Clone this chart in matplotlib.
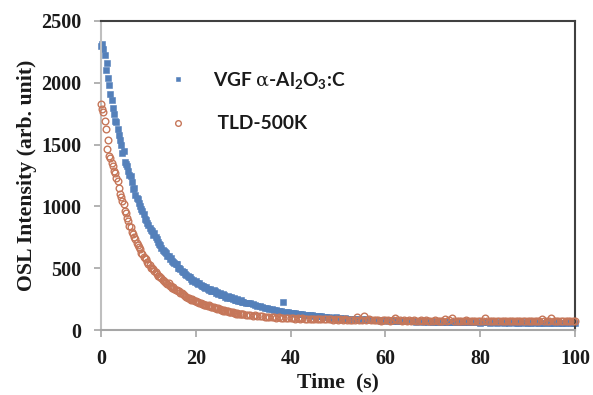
import numpy as np
import matplotlib
matplotlib.use("Agg")
import matplotlib.pyplot as plt
from matplotlib.font_manager import FontProperties

# time channels: 0.25 s steps for the first 30 s, 0.5 s steps afterwards
time_early = np.arange(0, 30, 0.25)
time_late = np.arange(30, 100.01, 0.5)

vgf_early = [
    2300, 2315, 2270, 2225, 2100, 2160, 2040, 1985,
    1910, 1860, 1800, 1750, 1690, 1680, 1625, 1580,
    1540, 1500, 1435, 1450, 1360, 1345, 1328, 1290,
    1255, 1245, 1200, 1140, 1150, 1095, 1068, 1060,
    1030, 1003, 980, 960, 938, 900, 890, 866,
    850, 825, 810, 800, 770, 785, 750, 735,
    715, 696, 690, 660, 650, 640, 630, 623,
    600, 595, 575, 580, 555, 548, 540, 530,
    534, 505, 498, 490, 480, 468, 470, 450,
    445, 437, 425, 430, 415, 400, 405, 392,
    395, 380, 370, 382, 365, 352, 358, 345,
    340, 348, 330, 325, 335, 318, 312, 320,
    315, 300, 308, 290, 298, 285, 280, 292,
    280, 270, 262, 275, 265, 255, 268, 250,
    255, 246, 240, 250, 238, 232, 242, 230,
]
vgf_late = [
    228, 220, 215, 222, 208, 205, 196, 198, 185, 180,
    176, 172, 168, 165, 160, 155, 150, 230, 148, 142,
    140, 135, 138, 130, 133, 126, 122, 125, 118, 120,
    115, 112, 110, 114, 106, 104, 108, 100, 98, 102,
    96, 95, 92, 96, 90, 88, 91, 86, 88, 84,
    86, 82, 85, 80, 83, 78, 80, 82, 76, 79,
    77, 75, 78, 74, 72, 76, 73, 70, 74, 71,
    73, 70, 72, 68, 71, 69, 66, 70, 67, 69,
    65, 68, 66, 70, 64, 67, 65, 68, 63, 66,
    64, 67, 62, 65, 63, 66, 61, 64, 62, 65,
    60, 63, 61, 64, 60, 62, 65, 59, 63, 61,
    60, 62, 58, 61, 63, 59, 60, 62, 57, 61,
    59, 60, 62, 58, 61, 57, 60, 59, 62, 56,
    60, 58, 61, 57, 60, 55, 59, 62, 56, 58,
    60,
]

tld_early = [
    1830, 1790, 1760, 1690, 1626, 1464, 1537, 1408,
    1391, 1351, 1327, 1290, 1270, 1230, 1205, 1150,
    1100, 1075, 1040, 1019, 965, 945, 906, 880,
    841, 830, 795, 780, 755, 736, 700, 690,
    670, 655, 625, 618, 590, 585, 574, 548,
    535, 528, 505, 500, 493, 478, 470, 455,
    440, 438, 425, 421, 405, 400, 392, 380,
    375, 380, 360, 355, 340, 345, 330, 325,
    320, 312, 318, 300, 298, 290, 285, 278,
    265, 259, 262, 250, 245, 252, 240, 236,
    232, 228, 224, 215, 218, 210, 212, 205,
    205, 200, 198, 202, 192, 188, 185, 190,
    180, 176, 172, 178, 168, 165, 160, 154,
    158, 152, 150, 155, 148, 145, 142, 146,
    140, 136, 130, 134, 133, 128, 130, 126,
]
tld_late = [
    127, 124, 120, 122, 116, 118, 112, 114, 110, 108,
    106, 109, 103, 105, 100, 102, 98, 101, 96, 99,
    95, 97, 93, 96, 92, 94, 90, 93, 89, 92,
    88, 91, 87, 90, 86, 89, 85, 88, 84, 87,
    84, 86, 82, 85, 81, 84, 80, 83, 108, 82,
    80, 110, 78, 92, 80, 77, 79, 81, 76, 79,
    78, 80, 76, 79, 95, 77, 78, 75, 79, 76,
    77, 75, 78, 76, 74, 77, 75, 78, 74, 76,
    75, 77, 74, 76, 75, 88, 74, 77, 100, 76,
    74, 76, 73, 75, 77, 74, 76, 72, 75, 73,
    76, 74, 98, 73, 75, 72, 76, 74, 73, 75,
    74, 76, 72, 75, 73, 76, 74, 72, 75, 73,
    75, 73, 76, 74, 72, 75, 90, 73, 76, 74,
    96, 75, 72, 74, 76, 73, 75, 72, 74, 76,
    74,
]

labels = [r"VGF $\mathsf{\alpha}$-Al$_2$O$_3$:C", " TLD-500K"]
x_ticks = [0, 20, 40, 60, 80, 100]
y_ticks = [0, 500, 1000, 1500, 2000, 2500]

blue = "#5480BA"
orange = "#C6775A"

plt.rcParams["mathtext.fontset"] = "custom"
plt.rcParams["mathtext.rm"] = "Lato:bold"
plt.rcParams["mathtext.it"] = "Lato:bold"
plt.rcParams["mathtext.bf"] = "Lato:bold"
plt.rcParams["mathtext.sf"] = "DejaVu Serif"

fig = plt.figure(figsize=(5.93, 3.95), dpi=100)
ax = fig.add_axes([101 / 593, 1 - 330 / 395, 474 / 593, 309 / 395])

t_all = np.concatenate([time_early, time_late])
vgf = np.concatenate([vgf_early, vgf_late])
tld = np.concatenate([tld_early, tld_late])

ax.plot(t_all, vgf, ls="none", marker="s", ms=3.8, mfc=blue, mec=blue,
        mew=0.4, label=labels[0], clip_on=False, zorder=2)
ax.plot(t_all, tld, ls="none", marker="o", ms=4.8, mfc="none", mec=orange,
        mew=1.0, label=labels[1], clip_on=False, zorder=3)

ax.set_xlim(0, 100)
ax.set_ylim(0, 2500)
ax.set_xticks(x_ticks)
ax.set_yticks(y_ticks)

serif = FontProperties(family="Liberation Serif", weight="bold", size=14.5)
for lab in ax.get_xticklabels() + ax.get_yticklabels():
    lab.set_fontproperties(serif)
    lab.set_color("#1a1a1a")

ax.tick_params(axis="both", direction="out", length=5, width=1.2,
               color="#A6A6A6")
ax.tick_params(axis="x", pad=9)
ax.tick_params(axis="y", pad=9)

ax.spines["left"].set_color("#BFBFBF")
ax.spines["left"].set_linewidth(1.5)
ax.spines["bottom"].set_color("#A6A6A6")
ax.spines["bottom"].set_linewidth(1.5)
ax.spines["top"].set_color("#404040")
ax.spines["top"].set_linewidth(1.5)
ax.spines["right"].set_color("#404040")
ax.spines["right"].set_linewidth(1.5)

lab_font = FontProperties(family="Liberation Serif", weight="bold", size=15.7)
ax.set_xlabel("Time  (s)", fontproperties=lab_font, labelpad=2, color="#1a1a1a")
ax.set_ylabel("OSL Intensity (arb. unit)", fontproperties=lab_font,
              labelpad=3, color="#1a1a1a")

leg_font = FontProperties(family=["Lato", "DejaVu Sans"], weight="bold", size=13.8)
leg = ax.legend(loc="upper left", bbox_to_anchor=(0.130, 0.867), frameon=False,
                prop=leg_font, handlelength=0.8, handletextpad=1.42,
                labelspacing=1.28, borderaxespad=0, markerscale=0.85)
for txt in leg.get_texts():
    txt.set_color("#1a1a1a")

fig.savefig("out.png", dpi=100)
